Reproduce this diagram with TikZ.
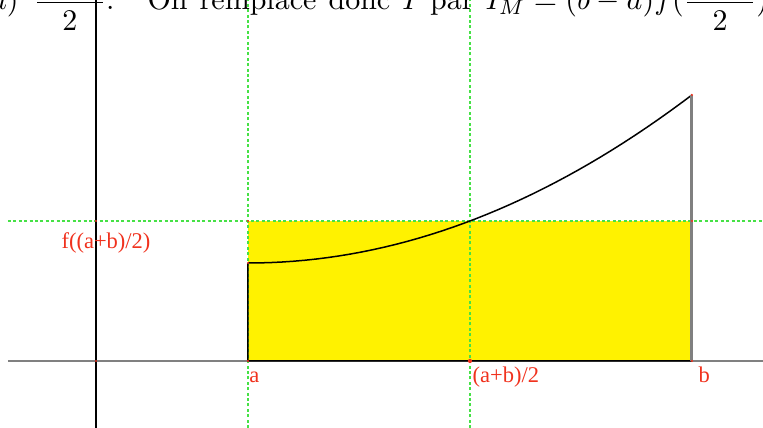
\documentclass[tikz,border=0pt]{standalone}
\usepackage{amsmath}
\usepackage{fontspec}
\newfontfamily\lblfont{Liberation Serif}
\definecolor{lblred}{RGB}{240,50,30}
\definecolor{guide}{RGB}{70,225,70}
\tikzset{
  guideline/.style={guide, dash pattern=on 1pt off 0.8pt, line width=0.4pt},
  lbl/.style={text=lblred, font=\lblfont\fontsize{7.5}{9}\selectfont, inner sep=0pt, anchor=base west},
  pt/.style={fill=lblred, circle, inner sep=0pt, minimum size=#1},
  pt/.default=0.8pt
}
\begin{document}
\begin{tikzpicture}[x=24.667pt, y=24.667pt]
\clip (-1.297, -0.905) rectangle (9.014, 4.878);
\coordinate (O) at (0, 0);
\coordinate (A) at (2.054, 0);
\coordinate (M) at (5.054, 0);
\coordinate (B) at (8.054, 0);
\coordinate (Af) at (2.054, 1.324);
\coordinate (Am) at (2.054, 1.892);
\coordinate (Om) at (0, 1.892);
\coordinate (Bm) at (8.054, 1.892);
\coordinate (Bf) at (8.054, 3.595);
\fill [yellow] (A) rectangle (Bm);
\draw [guideline] (2.054, -0.905) -- (2.054, 4.878);
\draw [guideline] (5.054, -0.905) -- (5.054, 4.878);
\draw [guideline] (-1.19, 1.892) -- (9.014, 1.892);
\draw [black!50, line width=0.6pt] (-1.19, 0) -- (9.014, 0);
\draw [line width=0.5pt] (0, -0.905) -- (0, 4.878);
\draw [line width=0.5pt] (B) -- (A) -- (Af)
  plot [domain=0:6, samples=40] ({2.054+\x}, {1.324+0.0631*\x*\x});
\draw [black!50, line width=1pt] (B) -- (Bf);
\node (txt) [anchor=base west] at (0.554, 4.743)
  {\spaceskip=4.05pt\llap{$(b-a)\mskip 9mu\dfrac{a+b}{2}$.\hspace{11pt}}On remplace donc $I$ par $I_M=(b-a)f(\dfrac{a+b}{2})$};
\node (fm) [lbl] at (-0.473, 1.514) {f((a+b)/2)};
\node (la) [lbl, xshift=0.3pt, yshift=-7.3pt] at (A) {a};
\node (lm) [lbl, xshift=0.7pt, yshift=-7.3pt] at (M) {(a+b)/2};
\node (lb) [lbl, xshift=2pt, yshift=-7.3pt] at (B) {b};
\foreach \p in {O, A, B, Af, Am, Om, Bm, Bf}
  \node [pt] at (\p) {};
\node [pt=1.4pt] at (M) {};
\end{tikzpicture}
\end{document}
